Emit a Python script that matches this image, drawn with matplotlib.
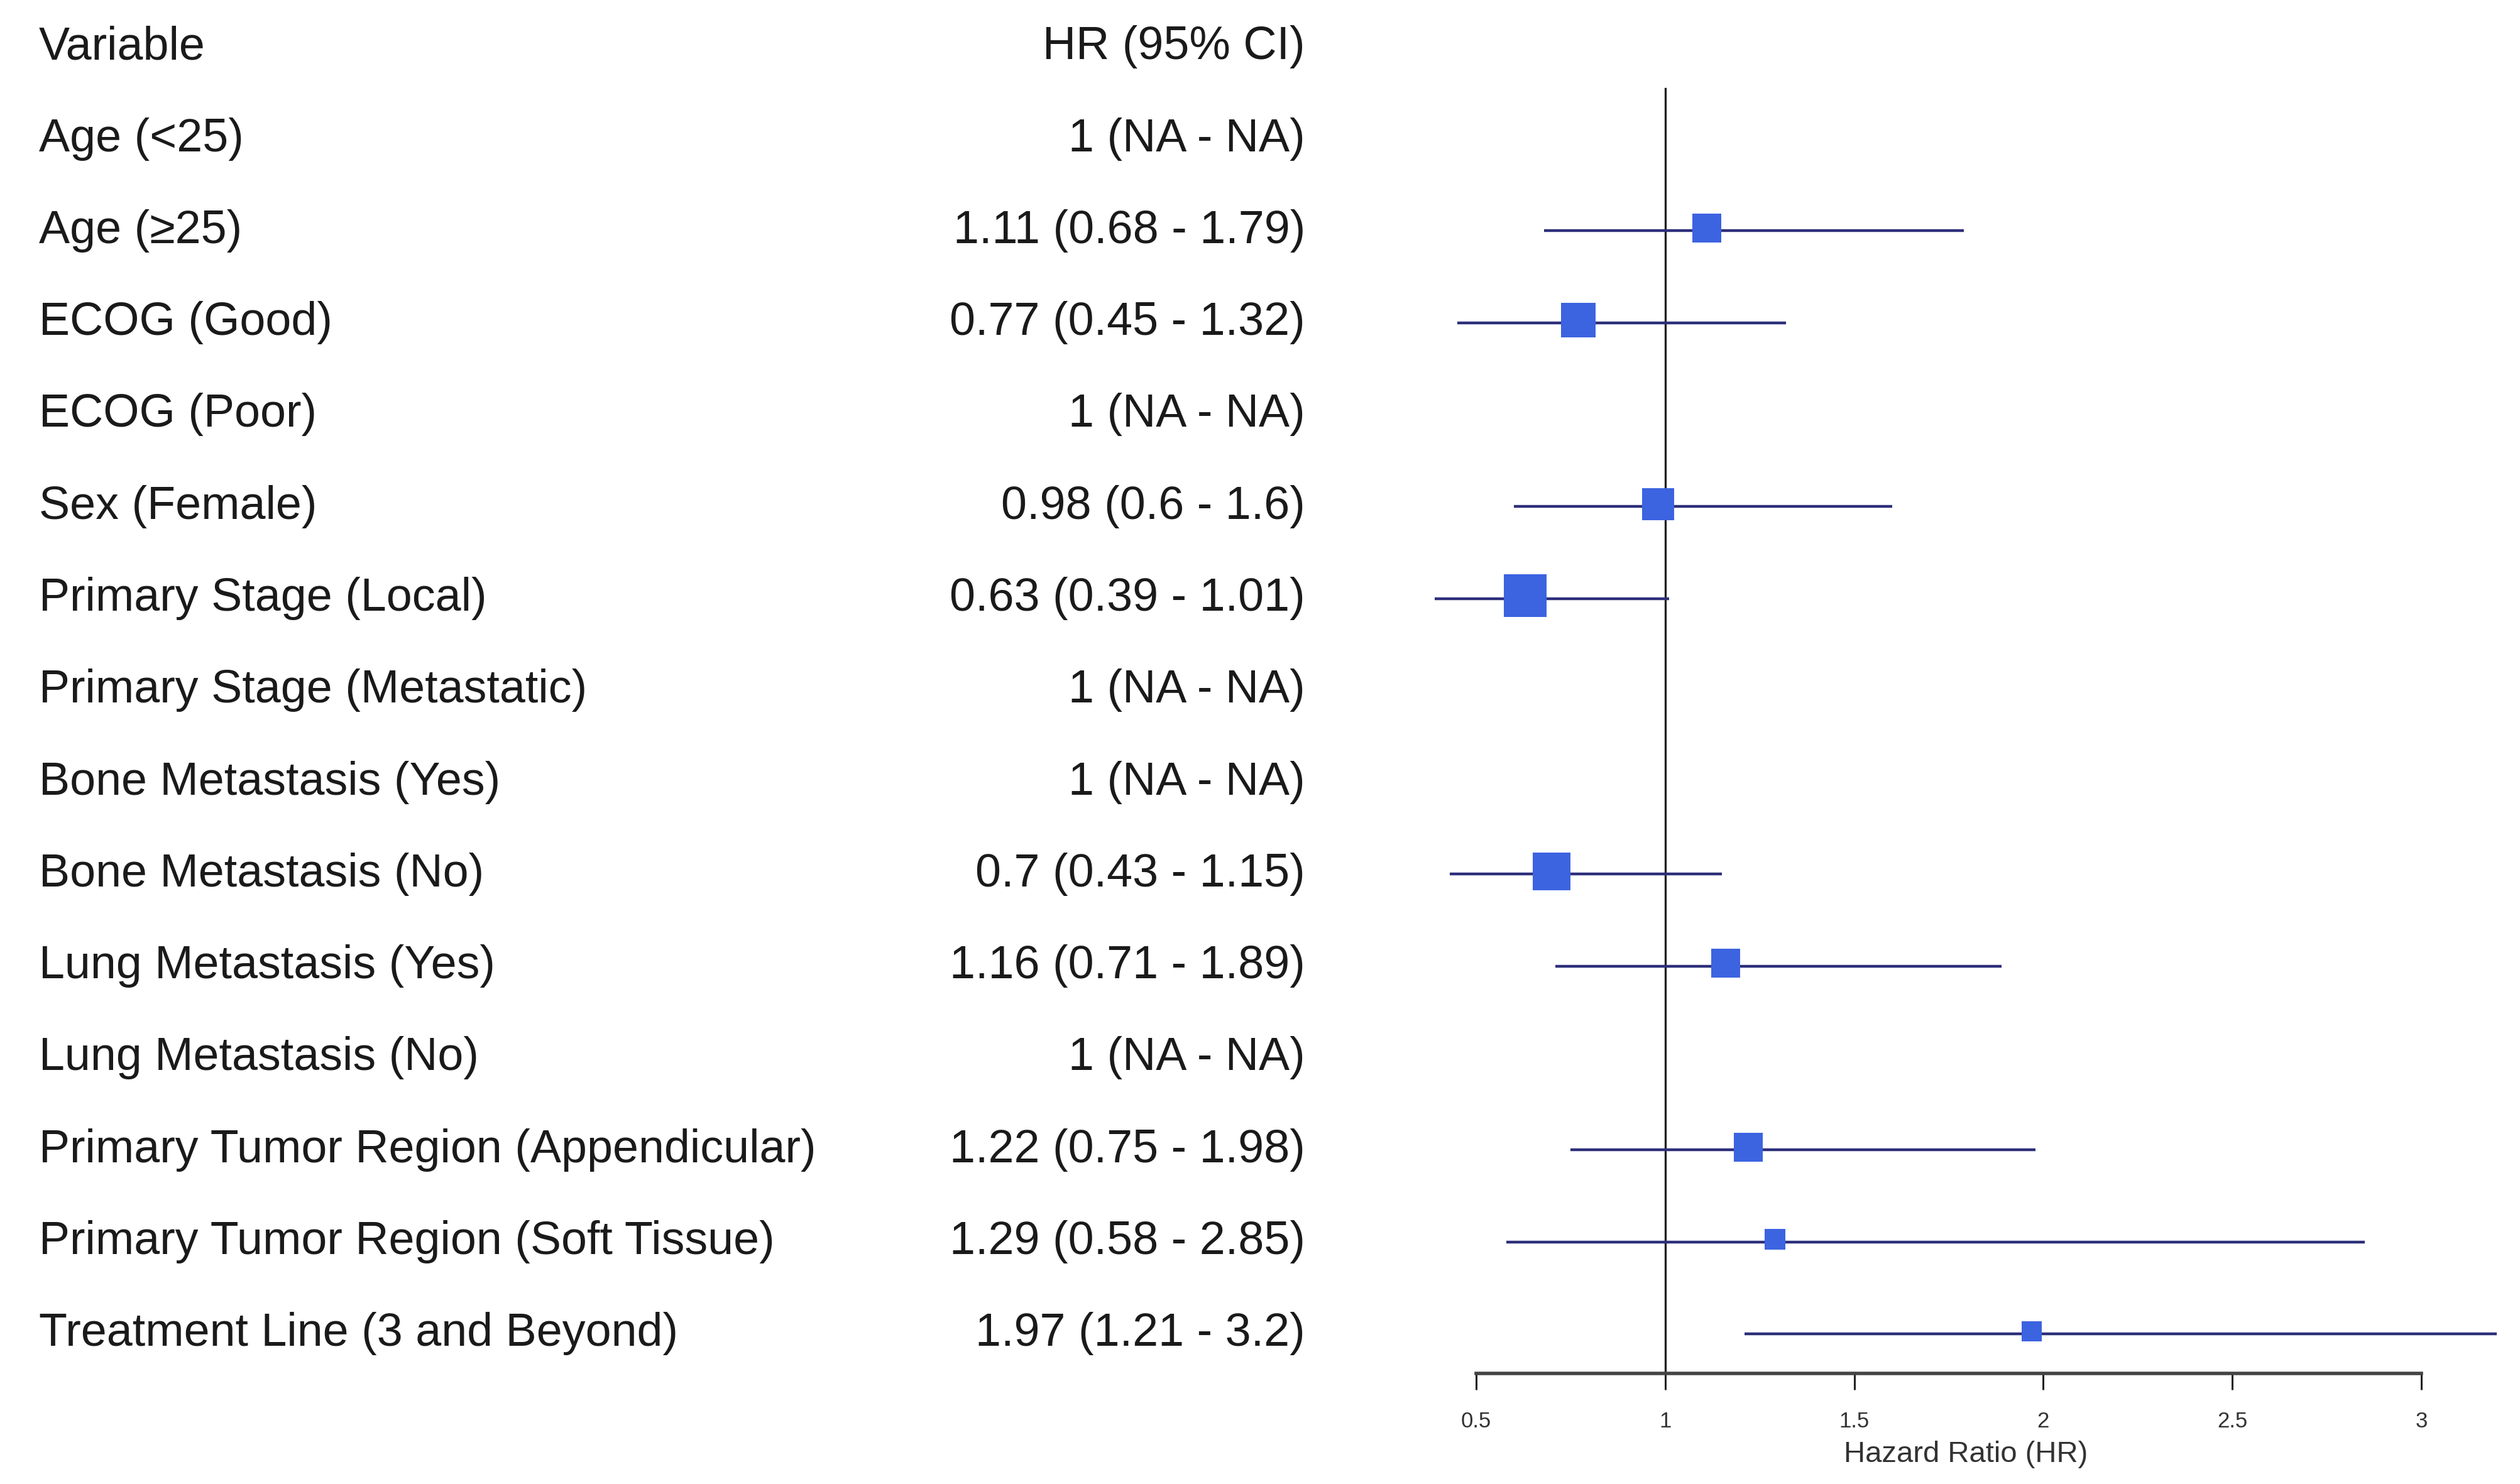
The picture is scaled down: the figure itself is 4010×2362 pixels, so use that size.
import numpy as np
import matplotlib
matplotlib.use('Agg')
import matplotlib.pyplot as plt
from matplotlib.transforms import blended_transform_factory

plt.rcParams['font.family'] = ['Liberation Sans', 'DejaVu Sans']

# 데이터
labels = ['Age (<25)', 'Age (≥25)', 'ECOG (Good)', 'ECOG (Poor)', 'Sex (Female)',
          'Primary Stage (Local)', 'Primary Stage (Metastatic)', 'Bone Metastasis (Yes)',
          'Bone Metastasis (No)', 'Lung Metastasis (Yes)', 'Lung Metastasis (No)',
          'Primary Tumor Region (Appendicular)', 'Primary Tumor Region (Soft Tissue)',
          'Treatment Line (3 and Beyond)']
hr_text = ['1 (NA - NA)', '1.11 (0.68 - 1.79)', '0.77 (0.45 - 1.32)', '1 (NA - NA)',
           '0.98 (0.6 - 1.6)', '0.63 (0.39 - 1.01)', '1 (NA - NA)', '1 (NA - NA)',
           '0.7 (0.43 - 1.15)', '1.16 (0.71 - 1.89)', '1 (NA - NA)', '1.22 (0.75 - 1.98)',
           '1.29 (0.58 - 2.85)', '1.97 (1.21 - 3.2)']
hr = [np.nan, 1.11, 0.77, np.nan, 0.98, 0.63, np.nan, np.nan, 0.7, 1.16, np.nan, 1.22, 1.29, 1.97]
lo = [np.nan, 0.68, 0.45, np.nan, 0.6, 0.39, np.nan, np.nan, 0.43, 0.71, np.nan, 0.75, 0.58, 1.21]
hi = [np.nan, 1.79, 1.32, np.nan, 1.6, 1.01, np.nan, np.nan, 1.15, 1.89, np.nan, 1.98, 2.85, 3.2]
# 박스 크기 (가중치, 픽셀)
box_px = [0, 46, 55, 0, 51, 68, 0, 0, 60, 46, 0, 46, 33, 32]
ticks = [0.5, 1, 1.5, 2, 2.5, 3]
tick_labels = ['0.5', '1', '1.5', '2', '2.5', '3']

W, H = 4010, 2362
fig = plt.figure(figsize=(W / 100, H / 100), dpi=100)

# 그래프 영역
unit = 601.6
x0 = 0.3
left_px = 2349 - (0.5 - x0) * unit
axis_px = 2186
ax = fig.add_axes([left_px / W, (H - axis_px) / H, (W - left_px) / W, axis_px / H])
ax.set_xlim(x0, x0 + (W - left_px) / unit)
pitch = 146.3
r_top = 1 - 221 / pitch
r_bot = 1 + (axis_px - 221) / pitch
ax.set_ylim(r_bot, r_top)

rows = np.arange(1, len(labels) + 1)
line_col = '#2d2f7a'
box_col = '#3c63e0'
for r, h, l, u, s in zip(rows, hr, lo, hi, box_px):
    if np.isnan(h):
        continue
    ax.plot([l, u], [r, r], color=line_col, lw=3.2, solid_capstyle='butt', zorder=2)
    ax.plot(h, r - 0.03, marker='s', ms=s * 0.72, mew=0, color=box_col, zorder=3)

ax.plot([1, 1], [1 - (221 - 141) / pitch, r_bot], color='#222222', lw=2.4, zorder=1)

for sp in ['top', 'right', 'left']:
    ax.spines[sp].set_visible(False)
ax.spines['bottom'].set_bounds(0.5, 3)
ax.spines['bottom'].set_linewidth(4)
ax.spines['bottom'].set_color('#444444')
ax.set_yticks([])
ax.set_xticks(ticks)
ax.set_xticklabels(tick_labels)
ax.tick_params(axis='x', length=19, width=2.2, color='#222222', pad=24,
               labelsize=25, labelcolor='#333333')
ax.set_xlabel('Hazard Ratio (HR)', fontsize=34, color='#333333')
ax.xaxis.set_label_coords((3128 - left_px) / (W - left_px), -0.049)

# 텍스트 열
tr = blended_transform_factory(fig.transFigure, ax.transData)
fs = 53
ax.text(62 / W, 0, 'Variable', transform=tr, ha='left', va='center', fontsize=fs,
        color='#1a1a1a', clip_on=False)
ax.text(2077 / W, 0, 'HR (95% CI)', transform=tr, ha='right', va='center', fontsize=fs,
        color='#1a1a1a', clip_on=False)
for r, lab, t in zip(rows, labels, hr_text):
    ax.text(62 / W, r, lab, transform=tr, ha='left', va='center', fontsize=fs,
            color='#1a1a1a', clip_on=False)
    ax.text(2077 / W, r, t, transform=tr, ha='right', va='center', fontsize=fs,
            color='#1a1a1a', clip_on=False)

fig.savefig('out.png', dpi=100)
